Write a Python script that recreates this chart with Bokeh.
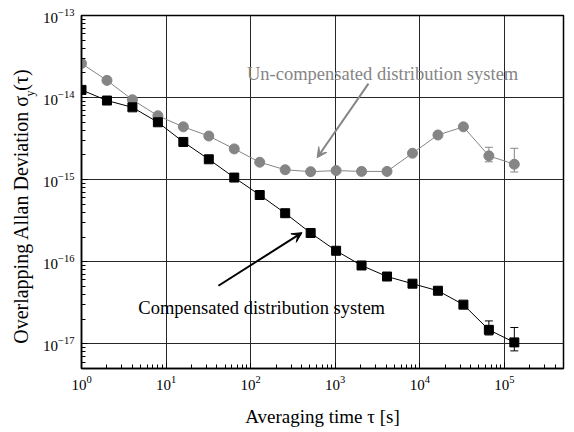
import math
from bokeh.plotting import figure
from bokeh.layouts import row
from bokeh.models import Label, Arrow, VeeHead, Whisker, TeeHead, ColumnDataSource, Range1d
from bokeh.embed import file_html
from bokeh.resources import INLINE

# averaging times (s)
tau = [1, 2, 4, 8, 16, 32, 64, 128, 256, 512, 1024, 2048, 4096, 8192,
       16384, 32768, 65536, 131072]
# un-compensated distribution system
uncomp = [2.6e-14, 1.62e-14, 9.4e-15, 6.0e-15, 4.4e-15, 3.4e-15, 2.37e-15,
          1.63e-15, 1.32e-15, 1.25e-15, 1.29e-15, 1.26e-15, 1.26e-15, 2.1e-15,
          3.5e-15, 4.4e-15, 1.95e-15, 1.54e-15]
# compensated distribution system
comp = [1.24e-14, 9.2e-15, 7.6e-15, 5.0e-15, 2.88e-15, 1.77e-15, 1.06e-15,
        6.5e-16, 3.9e-16, 2.24e-16, 1.36e-16, 9.0e-17, 6.6e-17, 5.4e-17,
        4.43e-17, 3.0e-17, 1.48e-17, 1.04e-17]
# error bars (last two points)
err_tau = [65536, 131072]
uncomp_upper = [2.48e-15, 2.41e-15]
uncomp_lower = [1.65e-15, 1.24e-15]
comp_upper = [1.9e-17, 1.58e-17]
comp_lower = [1.28e-17, 8.2e-18]

x_label = "Averaging time τ [s]"
y_label_main = "Overlapping Allan Deviation σ"
y_label_sub = "y"
y_label_tail = "(τ)"
label_uncomp = "Un-compensated distribution system"
label_comp = "Compensated distribution system"

FONT = "Liberation Serif"
GRAY = "#858585"
LEFT_W = 40

# narrow left figure that only holds the y-axis title
lp = figure(width=LEFT_W, height=432, x_range=Range1d(0, LEFT_W),
            y_range=Range1d(432, 0), output_backend="svg",
            toolbar_location=None, min_border=0)
lp.axis.visible = False
lp.grid.visible = False
lp.outline_line_color = None
lp.add_layout(Label(x=20, y=97, text=y_label_main, text_font=FONT,
                    text_font_size="20px", text_color="black", angle=math.pi / 2,
                    text_align="right", text_baseline="middle"))
lp.add_layout(Label(x=29, y=95.5, text=y_label_sub, text_font=FONT,
                    text_font_size="12px", text_color="black", angle=math.pi / 2,
                    text_align="center", text_baseline="middle"))
lp.add_layout(Label(x=20, y=92, text=y_label_tail, text_font=FONT,
                    text_font_size="20px", text_color="black", angle=math.pi / 2,
                    text_align="left", text_baseline="middle"))

p = figure(width=574 - LEFT_W, height=432, x_axis_type="log", y_axis_type="log",
           x_range=Range1d(1, 5e5), y_range=Range1d(5e-18, 1e-13),
           output_backend="svg", toolbar_location=None,
           min_border_left=81 - LEFT_W, min_border_right=11, min_border_top=15,
           min_border_bottom=64)
p.background_fill_color = "white"
p.border_fill_color = "white"
p.outline_line_color = "black"
p.outline_line_width = 1.5

for ax in (p.xaxis[0], p.yaxis[0]):
    ax.major_label_text_font = FONT
    ax.major_label_text_font_size = "15px"
    ax.major_label_text_color = "black"
    ax.axis_line_color = "black"
    ax.axis_line_width = 1.5
    ax.major_tick_in = 6
    ax.major_tick_out = 0
    ax.minor_tick_in = 4
    ax.minor_tick_out = 0
    ax.major_tick_line_color = "black"
    ax.minor_tick_line_color = "black"
    ax.major_label_standoff = 7

p.xaxis.axis_label = x_label
p.xaxis.axis_label_text_font = FONT
p.xaxis.axis_label_text_font_size = "19px"
p.xaxis.axis_label_text_font_style = "normal"
p.xaxis.axis_label_text_color = "black"
p.xaxis.axis_label_standoff = 13

p.xgrid.grid_line_color = "#262626"
p.ygrid.grid_line_color = "#262626"

src_u = ColumnDataSource(dict(x=tau, y=uncomp))
src_c = ColumnDataSource(dict(x=tau, y=comp))

p.line("x", "y", source=src_u, line_color=GRAY, line_width=1)
p.line("x", "y", source=src_c, line_color="black", line_width=1)

eu = ColumnDataSource(dict(x=err_tau, up=uncomp_upper, lo=uncomp_lower))
ec = ColumnDataSource(dict(x=err_tau, up=comp_upper, lo=comp_lower))
p.add_layout(Whisker(source=eu, base="x", upper="up", lower="lo",
                     line_color=GRAY, line_width=1,
                     upper_head=TeeHead(size=8, line_color=GRAY),
                     lower_head=TeeHead(size=8, line_color=GRAY)))
p.add_layout(Whisker(source=ec, base="x", upper="up", lower="lo",
                     line_color="black", line_width=1,
                     upper_head=TeeHead(size=8, line_color="black"),
                     lower_head=TeeHead(size=8, line_color="black")))

p.scatter("x", "y", source=src_u, marker="circle", size=10,
          fill_color=GRAY, line_color=GRAY)
p.scatter("x", "y", source=src_c, marker="square", size=9,
          fill_color="black", line_color="black")

p.add_layout(Label(x=3630, y=1.96e-14, text=label_uncomp, text_font=FONT,
                   text_font_size="18.5px", text_color=GRAY,
                   text_align="center", text_baseline="middle"))
p.add_layout(Label(x=135, y=2.75e-17, text=label_comp, text_font=FONT,
                   text_font_size="18.5px", text_color="black",
                   text_align="center", text_baseline="middle"))
p.add_layout(Arrow(x_start=2472, y_start=1.48e-14, x_end=611, y_end=1.85e-15,
                   line_color=GRAY, line_width=2,
                   end=VeeHead(size=10, fill_color=GRAY, line_color=GRAY)))
p.add_layout(Arrow(x_start=41.6, y_start=5.1e-17, x_end=405, y_end=2.26e-16,
                   line_color="black", line_width=2,
                   end=VeeHead(size=10, fill_color="black", line_color="black")))

open("out.html", "w").write(file_html(row(lp, p, spacing=0), INLINE))
